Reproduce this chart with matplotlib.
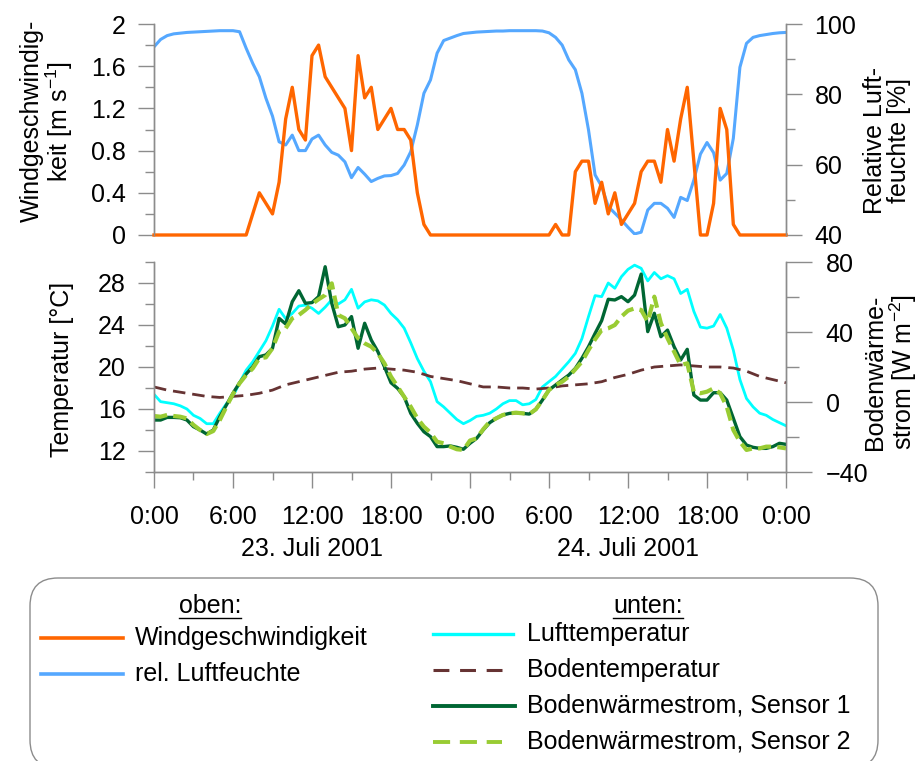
import numpy as np
import matplotlib
matplotlib.use("Agg")
import matplotlib.pyplot as plt
from matplotlib.patches import FancyBboxPatch
from matplotlib.lines import Line2D
from matplotlib.ticker import FixedLocator, FuncFormatter
import matplotlib.transforms as mtransforms

plt.rcParams['font.family'] = ['Liberation Sans', 'DejaVu Sans']
plt.rcParams['mathtext.fontset'] = 'custom'
plt.rcParams['mathtext.rm'] = 'Liberation Sans'
plt.rcParams['font.size'] = 18

# half-hourly time axis, hours since 23.07.2001 0:00
hours = np.arange(97) * 0.5
soil_hours = np.arange(49) * 1.0

wind = [0, 0, 0, 0, 0, 0, 0, 0, 0, 0, 0, 0, 0, 0, 0,
        0.2, 0.4, 0.3, 0.2, 0.5, 1.1, 1.4, 1.0, 0.9, 1.7, 1.8, 1.5, 1.4, 1.3, 1.2,
        0.8, 1.7, 1.3, 1.4, 1.0, 1.1, 1.2, 1.0, 1.0, 0.9, 0.4, 0.1,
        0, 0, 0, 0, 0, 0, 0, 0, 0, 0, 0, 0, 0, 0, 0, 0, 0, 0,
        0, 0.1, 0, 0, 0.6, 0.7, 0.7, 0.3, 0.5, 0.2, 0.4, 0.1, 0.2, 0.3, 0.6, 0.7,
        0.7, 0.5, 1.0, 0.7, 1.1, 1.4, 0.7, 0, 0, 0.3, 1.2, 1.0, 0.1,
        0, 0, 0, 0, 0, 0, 0, 0]

humidity = [93.5, 95.6, 96.7, 97.2, 97.4, 97.6, 97.7, 97.8, 97.9, 98.0, 98.1, 98.1, 98.1,
            97.8, 93.1, 88.8, 85.0, 78.9, 73.8, 66.5, 65.6, 68.4, 64.0, 64.0, 67.3, 68.4,
            65.6, 63.5, 62.7, 60.8, 56.3, 59.2, 57.3, 55.2, 56.1, 56.8, 56.9, 57.5, 59.9,
            63.7, 71.3, 80.3, 84.1, 91.7, 95.3, 96.0, 96.7, 97.3, 97.5,
            97.7, 97.8, 97.9, 98.0, 98.0, 98.1, 98.1, 98.1, 98.1, 98.1, 98.0, 97.5, 96.2,
            94.0, 89.8, 87.0, 80.3, 69.9, 57.1, 53.8, 48.1, 46.2, 44.3, 42.2, 40.3, 40.8,
            47.1, 49.0, 49.0, 47.6, 45.0, 50.7, 49.8, 55.6, 63.0, 66.3, 63.4, 55.6, 57.5,
            67.5, 87.7, 94.5, 96.2, 96.7, 97.0, 97.3, 97.5, 97.6]

air_temp = [17.4, 16.7, 16.6, 16.5, 16.3, 16.0, 15.4, 15.1, 14.6, 14.6, 15.6, 16.5, 17.2,
            18.5, 19.7, 20.5, 21.5, 22.5, 23.9, 25.5, 24.6, 25.1, 25.8, 25.9, 25.6, 25.1,
            25.7, 26.4, 26.0, 26.4, 27.4, 25.6, 26.2, 26.4, 26.3, 25.9, 25.1, 24.5, 23.7,
            22.3, 20.8, 19.6, 18.6, 16.7, 16.2, 15.6, 15.0, 14.6, 14.9,
            15.3, 15.4, 15.6, 16.0, 16.5, 16.8, 16.8, 16.4, 16.5, 16.9, 18.1, 18.6, 19.1,
            19.8, 20.5, 21.3, 22.7, 24.8, 26.8, 26.7, 28.0, 27.5, 28.6, 29.3, 29.7, 29.4,
            28.2, 29.0, 28.4, 28.7, 28.4, 27.0, 27.4, 25.3, 23.8, 23.7, 23.9, 25.0, 23.7,
            21.6, 18.8, 17.0, 16.2, 15.6, 15.4, 15.0, 14.7, 14.4]

soil_temp = [18.1, 17.8, 17.6, 17.4, 17.2, 17.1, 17.2, 17.3, 17.5, 17.8, 18.3, 18.6, 18.9,
             19.2, 19.5, 19.6, 19.8, 19.9, 19.8, 19.7, 19.5, 19.1, 18.9, 18.7, 18.4,
             18.1, 18.1, 18.0, 18.0, 17.9, 18.0, 18.2, 18.3, 18.4, 18.6, 19.0, 19.3,
             19.7, 20.0, 20.1, 20.2, 20.1, 20.0, 20.0, 19.9, 19.6, 19.1, 18.8, 18.5]

flux_1 = [-10.3, -10.3, -8.8, -8.8, -9.0, -10.3, -14.1, -16.0, -18.3, -16.0, -8.4, -1.7, 5.0,
          11.0, 16.0, 20.2, 25.9, 26.9, 30.7, 47.8, 44.6, 57.3, 63.6, 56.4, 56.8, 60.2,
          77.3, 56.4, 43.0, 44.0, 48.8, 30.7, 45.0, 35.4, 28.8, 20.2, 11.0, 7.8, 3.0,
          -6.5, -12.2, -17.0, -19.8, -25.5, -25.5, -25.1, -25.9, -27.0, -23.6,
          -20.8, -16.0, -11.8, -9.3, -7.4, -6.5, -6.1, -6.5, -6.9, -4.2, 1.1, 6.9, 9.7,
          12.6, 15.4, 19.2, 25.0, 31.6, 39.2, 46.5, 58.7, 58.3, 60.2, 57.3, 61.1, 73.1,
          40.2, 50.7, 37.3, 41.1, 31.6, 24.0, 30.1, 4.0, 1.1, 1.1, 5.3, 5.3, 1.1,
          -9.3, -19.8, -24.6, -25.9, -26.5, -26.5, -25.5, -23.6, -24.2]

flux_2 = [-8.0, -8.4, -7.4, -8.0, -8.4, -9.4, -13.1, -16.0, -18.3, -16.6, -10.3, -2.7, 4.6,
          10.7, 15.4, 19.2, 25.0, 25.5, 30.7, 40.2, 42.1, 47.8, 49.7, 52.6, 56.0, 58.7,
          61.1, 67.8, 49.7, 47.8, 42.1, 36.4, 33.5, 31.6, 27.8, 22.1, 14.5, 8.8, 3.0,
          -2.7, -9.3, -14.1, -17.5, -22.7, -23.6, -25.5, -27.0, -27.4, -22.0,
          -20.8, -15.6, -11.2, -9.3, -7.4, -6.5, -6.1, -6.5, -6.9, -4.2, 1.1, 6.9, 9.7,
          11.6, 14.5, 18.7, 23.0, 29.7, 35.8, 41.1, 42.1, 44.0, 48.8, 52.2, 53.5, 52.6,
          45.9, 60.2, 45.0, 36.4, 28.8, 21.1, 22.1, 5.9, 5.0, 5.9, 7.8, 5.0, -2.7,
          -16.0, -22.7, -27.4, -26.5, -26.5, -25.5, -25.5, -25.9, -26.5]

time_ticks = [0, 6, 12, 18, 24, 30, 36, 42, 48]
time_labels = ['0:00', '6:00', '12:00', '18:00', '0:00', '6:00', '12:00', '18:00', '0:00']
day_labels = ['23. Juli 2001', '24. Juli 2001']
day_centers = [12, 36]

c_wind = '#ff6600'
c_hum = '#55a8ff'
c_air = '#00ffff'
c_soil = '#663333'
c_f1 = '#006633'
c_f2 = '#99cc33'
c_axis = '#8c8c8c'

fig = plt.figure(figsize=(9.2, 7.61), dpi=100)
ax1 = fig.add_axes([154 / 920, 1 - 235 / 761, 632 / 920, 211 / 761])
ax1r = ax1.twinx()
ax2 = fig.add_axes([154 / 920, 1 - 472 / 761, 632 / 920, 210 / 761])
ax2r = ax2.twinx()

# wind on top of humidity
ax1.set_zorder(ax1r.get_zorder() + 1)
ax1.patch.set_visible(False)

ax1r.plot(hours, humidity, color=c_hum, lw=2.2, solid_joinstyle='round')
ax1.plot(hours, wind, color=c_wind, lw=2.4, solid_joinstyle='round', clip_on=False)

ax2.plot(hours, air_temp, color=c_air, lw=2.0)
ax2.plot(soil_hours, soil_temp, color=c_soil, lw=2.0, dashes=(4.5, 2.5))
ax2r.plot(hours, flux_1, color=c_f1, lw=2.4)
ax2r.plot(hours, flux_2, color=c_f2, lw=3.0, dashes=(3.2, 1.5))

fmt = FuncFormatter(lambda v, p: '%g' % v)

ax1.set_xlim(0, 48)
ax1.set_ylim(0, 2)
ax1.yaxis.set_major_locator(FixedLocator([0, 0.4, 0.8, 1.2, 1.6, 2.0]))
ax1.yaxis.set_minor_locator(FixedLocator([0.2, 0.6, 1.0, 1.4, 1.8]))
ax1.yaxis.set_major_formatter(fmt)
ax1r.set_ylim(40, 100)
ax1r.yaxis.set_major_locator(FixedLocator([40, 60, 80, 100]))
ax1r.yaxis.set_minor_locator(FixedLocator([50, 70, 90]))

ax2.set_xlim(0, 48)
ax2.set_ylim(10, 30)
ax2.yaxis.set_major_locator(FixedLocator([12, 16, 20, 24, 28]))
ax2.yaxis.set_minor_locator(FixedLocator([10, 14, 18, 22, 26, 30]))
ax2r.set_ylim(-40, 80)
ax2r.yaxis.set_major_locator(FixedLocator([-40, 0, 40, 80]))
ax2r.yaxis.set_minor_locator(FixedLocator([-20, 20, 60]))

ax2.xaxis.set_major_locator(FixedLocator(time_ticks))
ax2.xaxis.set_minor_locator(FixedLocator(np.arange(3, 48, 6)))
ax2.set_xticklabels(time_labels)

for ax in (ax1, ax1r, ax2, ax2r):
    for s in ax.spines.values():
        s.set_color(c_axis)
        s.set_linewidth(1.0)
    ax.spines['top'].set_visible(False)
    ax.tick_params(which='both', colors=c_axis, labelcolor='black', width=1.0,
                   labelsize=18)
    ax.tick_params(which='major', length=11.5, pad=9)
    ax.tick_params(which='minor', length=6.5)

for ax in (ax1, ax1r):
    ax.spines['bottom'].set_visible(False)
    ax.tick_params(axis='x', which='both', bottom=False, labelbottom=False)

ax2r.tick_params(which='major', length=18.5, pad=10)
ax2r.tick_params(which='minor', length=9.5)
ax2.tick_params(axis='x', which='major', length=11.5, pad=12)
ax2.tick_params(axis='x', which='minor', length=6)

ax1.set_ylabel('Windgeschwindig-\nkeit [m s$^{\\mathregular{-1}}$]', fontsize=18,
               linespacing=1.0)
ax1.yaxis.set_label_coords(-0.125, 0.54)
ax1r.set_ylabel('Relative Luft-\nfeuchte [%]', fontsize=18, linespacing=1.0)
ax1r.yaxis.set_label_coords(1.122, 0.45)
ax2.set_ylabel('Temperatur [°C]', fontsize=18)
ax2.yaxis.set_label_coords(-0.127, 0.49)
ax2r.set_ylabel('Bodenwärme-\nstrom [W m$^{\\mathregular{-2}}$]', fontsize=18,
                linespacing=1.0)
ax2r.yaxis.set_label_coords(1.122, 0.476)

date_tr = mtransforms.blended_transform_factory(ax2.transData, ax2.transAxes)
for x, lab in zip(day_centers, day_labels):
    ax2.text(x, -0.365, lab, transform=date_tr, ha='center', va='center', fontsize=18)

# legend box drawn in inch coordinates
tr = fig.dpi_scale_trans
H = 7.61


def py(y_px):
    return H - y_px / 100


box = FancyBboxPatch((0.30, py(768)), 8.48, (768 - 578) / 100,
                     boxstyle='round,pad=0,rounding_size=0.28',
                     transform=tr, facecolor='white', edgecolor='#8c8c8c',
                     lw=1.0, clip_on=False)
fig.patches.append(box)

renderer = fig.canvas.get_renderer()
for cx, title in [(2.10, 'oben:'), (6.48, 'unten:')]:
    t = fig.text(cx, py(606), title, transform=tr, ha='center', va='center', fontsize=18)
    bb = t.get_window_extent(renderer).transformed(tr.inverted())
    fig.add_artist(Line2D([bb.x0, bb.x1], [py(617.5)] * 2, transform=tr,
                          color='black', lw=1.0))

# label, colour, row y, dash pattern, width, sample end
left_items = [('Windgeschwindigkeit', c_wind, 638, None, 2.6, 1.23),
              ('rel. Luftfeuchte', c_hum, 674, None, 2.6, 1.23)]
right_items = [('Lufttemperatur', c_air, 634, None, 2.4, 5.13),
               ('Bodentemperatur', c_soil, 670, (5.2, 3.5), 2.2, 5.02),
               ('Bodenwärmestrom, Sensor 1', c_f1, 706, None, 2.8, 5.15),
               ('Bodenwärmestrom, Sensor 2', c_f2, 742, (4.4, 2.5), 2.8, 5.02)]

for items, x0, xt in [(left_items, 0.41, 1.35), (right_items, 4.325, 5.27)]:
    for lab, col, y, dash, lw, x1 in items:
        ln = Line2D([x0, x1], [py(y)] * 2, transform=tr, color=col, lw=lw)
        if dash:
            ln.set_dashes(dash)
        fig.add_artist(ln)
        fig.text(xt, py(y), lab, transform=tr, ha='left', va='center', fontsize=18)

fig.savefig('out.png', dpi=100)
